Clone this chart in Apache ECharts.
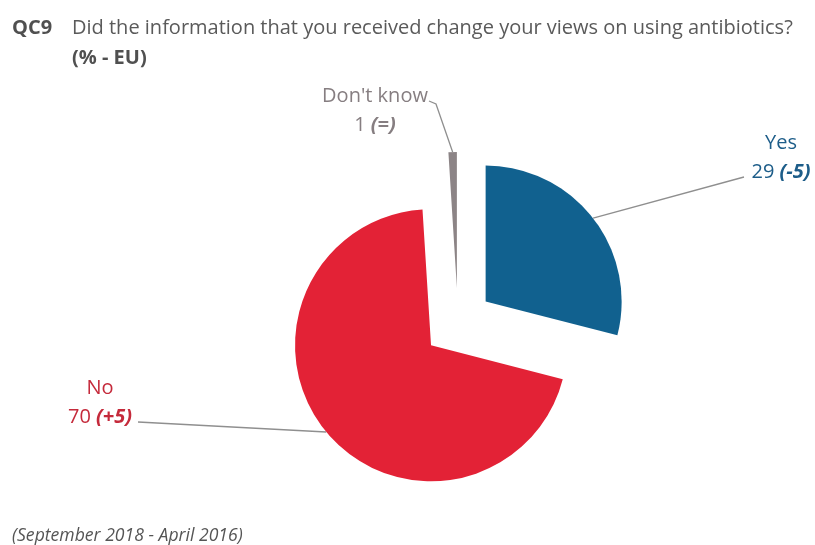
<!DOCTYPE html>
<html>
<head>
<meta charset="utf-8">
<script src="https://cdn.jsdelivr.net/npm/echarts@6/dist/echarts.min.js"></script>
<style>
  html, body { margin: 0; padding: 0; background: #fff; }
  #chart { width: 815px; height: 545px; }
</style>
</head>
<body>
<div id="chart"></div>
<script>
// Answers to QC9, share of respondents (%), and change since April 2016
const categories = ['Yes', 'No', "Don't know"];
const values = [29, 70, 1];
const changes = ['-5', '+5', '='];
const sliceColors = ['#11618f', '#e32236', '#8c8486'];
const labelColors = ['#1d5d89', '#c52a3b', '#867e81'];

// Where each label block sits and where its leader line meets it
const labelSpots = [
  { x: 781, y: 158, end: [[744, 177]] },
  { x: 100, y: 403, end: [[138, 422]] },
  { x: 375, y: 111, end: [[436, 104], [429, 101]] }
];

const FONT = '"Open Sans", "Noto Sans", sans-serif';
const PIE_CENTER = [458, 323];
const PIE_RADIUS = 136;
const EXPLODE = 35;

const chart = echarts.init(document.getElementById('chart'), null, { renderer: 'canvas' });

// Every slice is pulled out along its own bisector, so each one gets its
// own series whose centre is shifted; the other slices there stay invisible.
const total = values.reduce((a, b) => a + b, 0);
let cumulative = 0;
const series = categories.map((name, i) => {
  const startDeg = 90 - cumulative / total * 360;
  cumulative += values[i];
  const endDeg = 90 - cumulative / total * 360;
  const mid = (startDeg + endDeg) / 2 * Math.PI / 180;
  const center = [
    PIE_CENTER[0] + EXPLODE * Math.cos(mid),
    PIE_CENTER[1] - EXPLODE * Math.sin(mid)
  ];
  const data = categories.map((n, j) => {
    if (j !== i) {
      return {
        name: n, value: values[j],
        itemStyle: { color: 'rgba(0,0,0,0)' },
        label: { show: false },
        labelLine: { show: false }
      };
    }
    return {
      name: n, value: values[j],
      itemStyle: { color: sliceColors[j] },
      label: {
        show: true,
        formatter: '{n|' + n + '}\n{n|' + values[j] + ' }{c|(' + changes[j] + ')}',
        rich: {
          n: { color: labelColors[j], fontSize: 20, fontFamily: FONT, lineHeight: 29 },
          c: { color: labelColors[j], fontSize: 20, fontFamily: FONT, fontWeight: 'bold', fontStyle: 'italic', lineHeight: 29 }
        }
      },
      labelLine: { show: true }
    };
  });
  return {
    type: 'pie',
    center: center,
    radius: PIE_RADIUS,
    startAngle: 90,
    clockwise: true,
    avoidLabelOverlap: false,
    silent: true,
    data: data,
    label: { position: 'outside', align: 'center' },
    labelLine: { length: 20, length2: 20, lineStyle: { color: '#8f8f8f', width: 1.3 } },
    labelLayout: function (params) {
      const spot = labelSpots[params.dataIndex];
      const out = { x: spot.x, y: spot.y, align: 'center', verticalAlign: 'middle' };
      if (params.labelLinePoints) out.labelLinePoints = [params.labelLinePoints[0]].concat(spot.end);
      return out;
    }
  };
});

chart.setOption({
  animation: false,
  backgroundColor: '#ffffff',
  title: [
    {
      text: 'QC9',
      left: 7, top: 13,
      textStyle: { fontFamily: FONT, fontSize: 20, fontWeight: 'bold', color: '#505050' }
    },
    {
      text: 'Did the information that you received change your views on using antibiotics?',
      left: 67, top: 13,
      textStyle: { fontFamily: FONT, fontSize: 20, fontWeight: 'normal', color: '#5a5a5a' }
    },
    {
      text: '(% - EU)',
      left: 67, top: 43,
      textStyle: { fontFamily: FONT, fontSize: 20, fontWeight: 'bold', color: '#505050' }
    },
    {
      text: '(September 2018 - April 2016)',
      left: 7, top: 522,
      textStyle: { fontFamily: FONT, fontSize: 17.6, fontWeight: 'normal', fontStyle: 'italic', color: '#555555' }
    }
  ],
  series: series
});
</script>
</body>
</html>
